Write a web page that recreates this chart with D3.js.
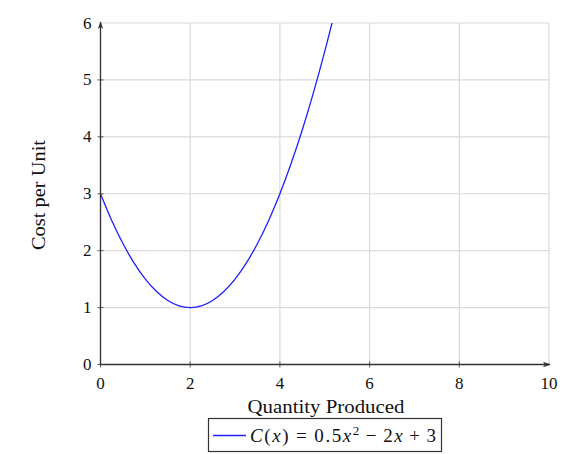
<!DOCTYPE html>
<html><head><meta charset="utf-8">
<script src="https://cdn.jsdelivr.net/npm/d3@7"></script>
<style>body{margin:0;background:#fff}svg{display:block}</style>
</head><body>
<svg id="c" width="575" height="454"></svg>
<script>
const quantity = [0,0.25,0.5,0.75,1,1.25,1.5,1.75,2,2.25,2.5,2.75,3,3.25,3.5,3.75,4,4.25,4.5,4.75,5,5.25];
const cost = [3,2.53125,2.125,1.78125,1.5,1.28125,1.125,1.03125,1,1.03125,1.125,1.28125,1.5,1.78125,2.125,2.53125,3,3.53125,4.125,4.78125,5.5,6.28125];
const xTicks = [0,2,4,6,8,10];
const yTicks = [0,1,2,3,4,5,6];
const xLabel = "Quantity Produced";
const yLabel = "Cost per Unit";

const svg = d3.select("#c");
const font = "'Liberation Serif','DejaVu Serif',serif";
const x = d3.scaleLinear().domain([0,10]).range([100.5,549]);
const y = d3.scaleLinear().domain([0,6]).range([364.5,23]);

// grid
const g = svg.append("g");
g.selectAll(".vx").data(xTicks).join("line")
  .attr("x1",d=>x(d)).attr("x2",d=>x(d)).attr("y1",y(0)).attr("y2",y(6))
  .attr("stroke","#dadada").attr("stroke-width",1.2);
g.selectAll(".hy").data(yTicks).join("line")
  .attr("y1",d=>y(d)).attr("y2",d=>y(d)).attr("x1",x(0)).attr("x2",x(10))
  .attr("stroke","#dadada").attr("stroke-width",1.2);

// curve
svg.append("clipPath").attr("id","clp").append("rect")
  .attr("x",x(0)).attr("y",y(6)).attr("width",x(10)-x(0)).attr("height",y(0)-y(6));
const line = d3.line().x((d,i)=>x(quantity[i])).y(d=>y(d)).curve(d3.curveMonotoneX);
svg.append("path").datum(cost).attr("d",line).attr("fill","none")
  .attr("stroke","#2020ff").attr("stroke-width",1.3).attr("clip-path","url(#clp)");

// axes
const defs = svg.append("defs");
defs.append("marker").attr("id","arr").attr("viewBox","0 0 10 10").attr("refX",9).attr("refY",5)
  .attr("markerWidth",6).attr("markerHeight",6).attr("orient","auto")
  .append("path").attr("d","M0,1.5 L10,5 L0,8.5 L2.5,5 Z").attr("fill","#333");
svg.append("line").attr("x1",x(0)).attr("x2",x(10)+1).attr("y1",y(0)).attr("y2",y(0))
  .attr("stroke","#333").attr("stroke-width",1.3).attr("marker-end","url(#arr)");
svg.append("line").attr("x1",x(0)).attr("x2",x(0)).attr("y1",y(0)).attr("y2",y(6)-1)
  .attr("stroke","#333").attr("stroke-width",1.3).attr("marker-end","url(#arr)");

// ticks
svg.selectAll(".xt").data(xTicks.filter(d=>d<10)).join("line")
  .attr("x1",d=>x(d)).attr("x2",d=>x(d)).attr("y1",y(0)-3).attr("y2",y(0)+3)
  .attr("stroke","#333").attr("stroke-width",0.8);
svg.selectAll(".yt").data(yTicks.filter(d=>d<6)).join("line")
  .attr("y1",d=>y(d)).attr("y2",d=>y(d)).attr("x1",x(0)-3).attr("x2",x(0)+3)
  .attr("stroke","#333").attr("stroke-width",0.8);

svg.selectAll(".xl").data(xTicks).join("text")
  .attr("x",d=>x(d)).attr("y",y(0)+24).attr("text-anchor","middle")
  .attr("font-family",font).attr("font-size",17).attr("fill","#111").text(d=>d);
svg.selectAll(".yl").data(yTicks).join("text")
  .attr("x",x(0)-9).attr("y",d=>y(d)+5.5).attr("text-anchor","end")
  .attr("font-family",font).attr("font-size",17).attr("fill","#111").text(d=>d);

svg.append("text").attr("x",326).attr("y",413).attr("text-anchor","middle")
  .attr("font-family",font).attr("font-size",19).attr("fill","#111")
  .attr("textLength",157).attr("lengthAdjust","spacingAndGlyphs").text(xLabel);
svg.append("text").attr("transform","translate(45,195) rotate(-90)").attr("text-anchor","middle")
  .attr("font-family",font).attr("font-size",19).attr("fill","#111")
  .attr("textLength",110).attr("lengthAdjust","spacingAndGlyphs").text(yLabel);

// legend
svg.append("rect").attr("x",208.5).attr("y",418.5).attr("width",233).attr("height",33)
  .attr("fill","#fff").attr("stroke","#333").attr("stroke-width",1.2);
svg.append("line").attr("x1",213).attr("x2",246).attr("y1",435.5).attr("y2",435.5)
  .attr("stroke","#2020ff").attr("stroke-width",1.3);
const t = svg.append("text").attr("x",250).attr("y",442)
  .attr("font-family",font).attr("font-size",19).attr("fill","#111")
  .attr("textLength",186).attr("lengthAdjust","spacing");
t.append("tspan").attr("font-style","italic").text("C");
t.append("tspan").text("(");
t.append("tspan").attr("font-style","italic").text("x");
t.append("tspan").text(")");
t.append("tspan").attr("dx",6).text("=");
t.append("tspan").attr("dx",6).text("0.5");
t.append("tspan").attr("font-style","italic").text("x");
t.append("tspan").attr("font-size",13).attr("dy",-7).text("2");
t.append("tspan").attr("dy",7).attr("dx",5).text("−");
t.append("tspan").attr("dx",5).text("2");
t.append("tspan").attr("font-style","italic").text("x");
t.append("tspan").attr("dx",5).text("+");
t.append("tspan").attr("dx",5).text("3");
</script>
</body></html>
